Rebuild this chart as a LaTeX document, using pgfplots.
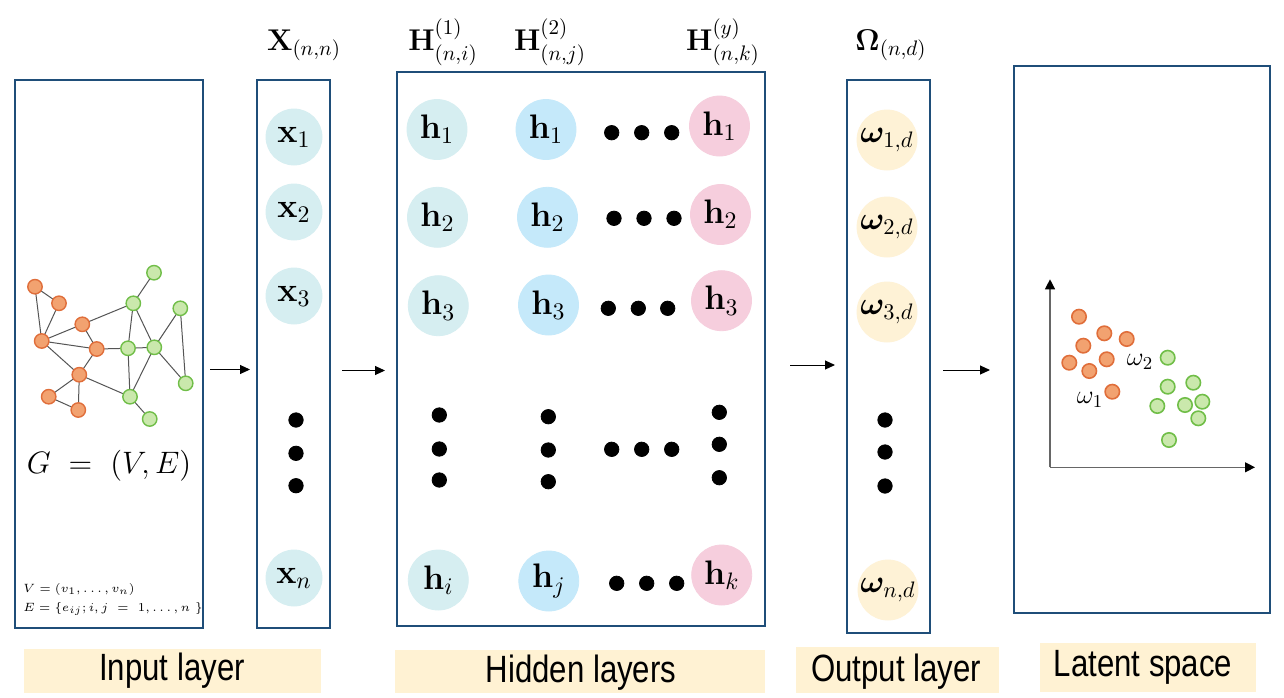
\RequirePackage{fix-cm}
\documentclass[border=0pt]{standalone}
\usepackage{amsmath,bm}
\usepackage[no-math]{fontspec}
\newfontfamily\labelfont[FakeStretch=0.82]{Liberation Sans}
\usepackage{pgfplots}
\pgfplotsset{compat=1.18}
\usetikzlibrary{arrows.meta}

\definecolor{boxblue}{RGB}{31,78,121}
\definecolor{tealc}{RGB}{214,238,241}
\definecolor{bluec}{RGB}{197,233,250}
\definecolor{pinkc}{RGB}{246,206,221}
\definecolor{beigec}{RGB}{254,242,214}
\definecolor{lblbg}{RGB}{255,242,211}
\definecolor{orfill}{RGB}{242,162,112}
\definecolor{ordraw}{RGB}{224,110,58}
\definecolor{grfill}{RGB}{202,232,172}
\definecolor{grdraw}{RGB}{112,190,72}
\definecolor{edgec}{RGB}{85,85,85}

\pgfplotsset{
  neuron/.style={only marks, mark=*, mark size=15pt, color=#1,
    point meta=explicit symbolic, nodes near coords,
    every node near coord/.append style={anchor=center, text=black,
      font=\fontsize{17}{20}\selectfont}},
  dots/.style={only marks, mark=*, mark size=3.6pt, color=black},
}

\begin{document}
\begin{tikzpicture}
\begin{axis}[hide axis, scale only axis, width=642pt, height=347.5pt,
  xmin=0, xmax=1284, ymin=0, ymax=695, clip=false,
  unbounded coords=jump]

% background
\addplot[fill=white, draw=none] coordinates {(0,0) (1284,0) (1284,695) (0,695)} -- cycle;

% caption bars
\addplot[fill=lblbg, draw=none] coordinates {(24,2) (321,2) (321,46) (24,46)} -- cycle;
\addplot[fill=lblbg, draw=none] coordinates {(395,2) (765,2) (765,45) (395,45)} -- cycle;
\addplot[fill=lblbg, draw=none] coordinates {(796,2) (999,2) (999,48) (796,48)} -- cycle;
\addplot[fill=lblbg, draw=none] coordinates {(1040,3) (1256,3) (1256,52) (1040,52)} -- cycle;

% frames
\addplot[draw=boxblue, line width=0.8pt] coordinates {(15,67) (203,67) (203,615) (15,615)} -- cycle;
\addplot[draw=boxblue, line width=0.8pt] coordinates {(257,67) (330,67) (330,615) (257,615)} -- cycle;
\addplot[draw=boxblue, line width=0.8pt] coordinates {(397,69) (765,69) (765,623) (397,623)} -- cycle;
\addplot[draw=boxblue, line width=0.8pt] coordinates {(847,62) (930,62) (930,615) (847,615)} -- cycle;
\addplot[draw=boxblue, line width=0.8pt] coordinates {(1014,82) (1270,82) (1270,629) (1014,629)} -- cycle;

% arrows between stages
\addplot[line width=0.5pt, -{Triangle[length=5pt,width=4.5pt]}] coordinates {(210,325.5) (250,325.5)};
\addplot[line width=0.5pt, -{Triangle[length=5pt,width=4.5pt]}] coordinates {(342,324.5) (385,324.5)};
\addplot[line width=0.5pt, -{Triangle[length=5pt,width=4.5pt]}] coordinates {(790,330) (835,330)};
\addplot[line width=0.5pt, -{Triangle[length=5pt,width=4.5pt]}] coordinates {(943,325) (990,325)};

% input graph: edges
\addplot[draw=edgec, line width=0.5pt] coordinates {
(35,408.3) (59,391.7) (nan,nan)
(35,408.3) (41.7,354) (nan,nan)
(59,391.7) (41.7,354) (nan,nan)
(41.7,354) (82.3,370.7) (nan,nan)
(82.3,370.7) (96.7,346) (nan,nan)
(41.7,354) (96.7,346) (nan,nan)
(41.7,354) (79.3,320.3) (nan,nan)
(96.7,346) (79.3,320.3) (nan,nan)
(82.3,370.7) (133.3,391.7) (nan,nan)
(79.3,320.3) (48.7,298.3) (nan,nan)
(79.3,320.3) (78.3,285) (nan,nan)
(48.7,298.3) (78.3,285) (nan,nan)
(79.3,320.3) (130,298.3) (nan,nan)
(96.7,346) (128,346.7) (nan,nan)
(128,346.7) (154.3,347.7) (nan,nan)
(133.3,391.7) (128,346.7) (nan,nan)
(133.3,391.7) (154.3,347.7) (nan,nan)
(133.3,391.7) (154,422.3) (nan,nan)
(128,346.7) (130,298.3) (nan,nan)
(130,298.3) (154.3,347.7) (nan,nan)
(130,298.3) (149.7,276) (nan,nan)
(154.3,347.7) (180.3,386.7) (nan,nan)
(180.3,386.7) (185.7,311.7) (nan,nan)
(154.3,347.7) (185.7,311.7)
};
% input graph: vertices
\addplot[only marks, mark=*, mark size=3.6pt, mark options={fill=orfill, draw=ordraw, line width=0.7pt}] coordinates {
(35,408.3) (59,391.7) (82.3,370.7) (41.7,354) (96.7,346) (79.3,320.3) (48.7,298.3) (78.3,285)};
\addplot[only marks, mark=*, mark size=3.6pt, mark options={fill=grfill, draw=grdraw, line width=0.7pt}] coordinates {
(154,422.3) (133.3,391.7) (180.3,386.7) (128,346.7) (154.3,347.7) (185.7,311.7) (130,298.3) (149.7,276)};

\node[font=\fontsize{15.5}{18}\selectfont] at (axis cs:109,229) {$G\ =\ (V,E)$};
\node[anchor=west, inner sep=0pt, font=\fontsize{6}{7}\selectfont] at (axis cs:23,106) {$V=(v_1,\ldots,v_n)$};
\node[anchor=west, inner sep=0pt, font=\fontsize{6}{7}\selectfont] at (axis cs:23,86) {$E=\{e_{ij};i,j\ =\ 1,\ldots,n\ \}$};

% X column
\addplot[neuron=tealc, mark size=14pt] coordinates {
(294,558) [$\mathbf{x}_1$] (294,483) [$\mathbf{x}_2$] (294,399) [$\mathbf{x}_3$] (294,117) [$\mathbf{x}_n$]};
\addplot[dots] coordinates {(296,275) (296,241.7) (296,209.3)};

% hidden layers
\addplot[neuron=tealc] coordinates {
(437,565.5) [$\mathbf{h}_1$] (437.5,477.7) [$\mathbf{h}_2$] (438.3,389.3) [$\mathbf{h}_3$] (438.3,115) [$\mathbf{h}_i$]};
\addplot[neuron=bluec] coordinates {
(546,565.5) [$\mathbf{h}_1$] (547.5,477.7) [$\mathbf{h}_2$] (548.5,390) [$\mathbf{h}_3$] (548.8,114) [$\mathbf{h}_j$]};
\addplot[neuron=pinkc] coordinates {
(719.5,569) [$\mathbf{h}_1$] (720.5,480.5) [$\mathbf{h}_2$] (721.5,394.3) [$\mathbf{h}_3$] (721.7,120) [$\mathbf{h}_k$]};
\addplot[dots] coordinates {
(611.7,562.3) (641.7,562.3) (671.7,562.3)
(614,476.7) (644,476.7) (674,476.7)
(608.3,386.7) (638.3,386.7) (667.7,386.7)
(611.7,245.7) (641.7,245.7) (671.7,245.7)
(616.7,111.7) (646.7,111.7) (676.7,111.7)
(439.3,280) (439.3,246) (439.3,215)
(548.3,278.3) (548.3,245) (548.3,213.3)
(719.3,282.7) (719.3,250.7) (719.3,217.3)};

% output layer
\addplot[neuron=beigec, every node near coord/.append style={font=\fontsize{16}{19}\selectfont}] coordinates {
(887,555) [$\bm{\omega}_{1,d}$] (887,468) [$\bm{\omega}_{2,d}$] (887,383) [$\bm{\omega}_{3,d}$] (888,105) [$\bm{\omega}_{n,d}$]};
\addplot[dots] coordinates {(885,275) (885,243) (885,209)};

% headers
\begin{scope}[font=\fontsize{15}{18}\selectfont]
\node[anchor=base] at (axis cs:304,645) {$\mathbf{X}_{(n,n)}$};
\node[anchor=base] at (axis cs:443,645) {$\mathbf{H}^{(1)}_{(n,i)}$};
\node[anchor=base] at (axis cs:550,645) {$\mathbf{H}^{(2)}_{(n,j)}$};
\node[anchor=base] at (axis cs:723,645) {$\mathbf{H}^{(y)}_{(n,k)}$};
\node[anchor=base] at (axis cs:891,645) {$\mathbf{\Omega}_{(n,d)}$};
\end{scope}

% latent space
\addplot[draw=black!60, line width=0.6pt, -{Triangle[length=5pt,width=5pt,black]}] coordinates {(1050,227.7) (1050,415.7)};
\addplot[draw=black!60, line width=0.6pt, -{Triangle[length=5pt,width=5pt,black]}] coordinates {(1050,227.7) (1255,227.7)};
\addplot[only marks, mark=*, mark size=3.6pt, mark options={fill=orfill, draw=ordraw, line width=0.8pt}] coordinates {
(1079,378.3) (1104.3,361.7) (1126.7,356) (1083.3,349.3) (1069.3,332.3) (1106.7,335.7) (1089.3,324) (1112.3,303.3)};
\addplot[only marks, mark=*, mark size=3.6pt, mark options={fill=grfill, draw=grdraw, line width=0.8pt}] coordinates {
(1167.7,337.3) (1167.7,308.3) (1193.3,312.3) (1157.3,289) (1185,290) (1202.3,293.3) (1198.3,276.7) (1169,255)};
\node[font=\fontsize{13}{15}\selectfont] at (axis cs:1090,295) {$\omega_1$};
\node[font=\fontsize{13}{15}\selectfont] at (axis cs:1140,333) {$\omega_2$};

% captions
\begin{scope}[font=\labelfont\fontsize{19}{22}\selectfont]
\node at (axis cs:172,24) {Input layer};
\node at (axis cs:581,22) {Hidden layers};
\node at (axis cs:896,23) {Output layer};
\node at (axis cs:1143,28) {Latent space};
\end{scope}

\end{axis}
\end{tikzpicture}
\end{document}
